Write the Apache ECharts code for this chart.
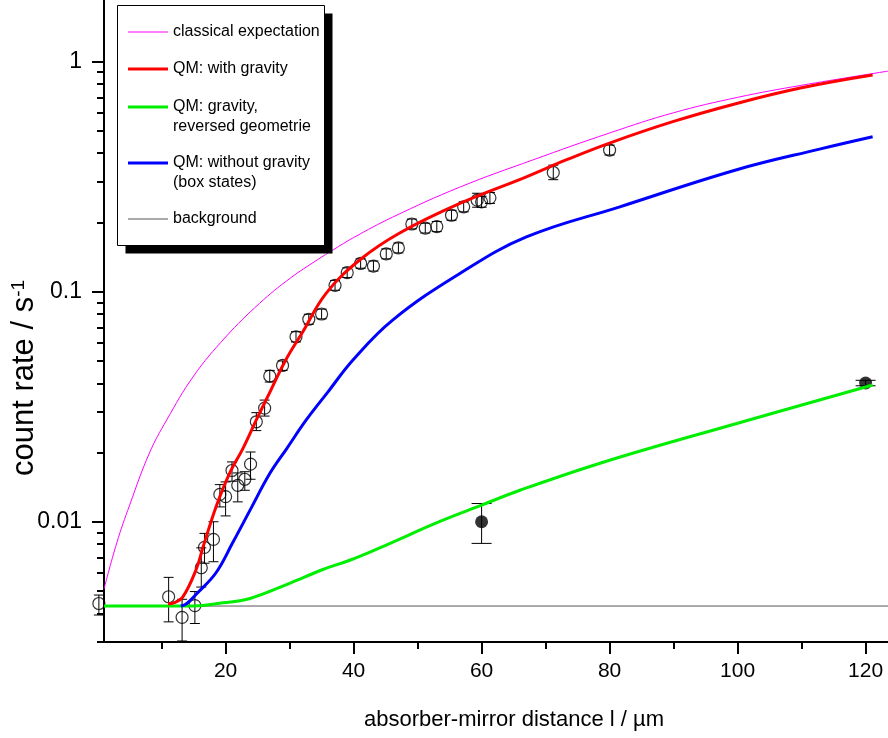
<!DOCTYPE html>
<html>
<head>
<meta charset="utf-8">
<title>count rate vs absorber-mirror distance</title>
<script src="https://cdn.jsdelivr.net/npm/echarts@6.0.0/dist/echarts.min.js"></script>
<style>
	html, body { margin: 0; padding: 0; background: #fff; }
	#chart { width: 888px; height: 738px; }
</style>
</head>
<body>
<div id="chart"></div>
<script>
// axis ranges and ticks
var xMin = 1, xMax = 123.5;
var yMin = 0.003, yMax = 1.855;
var xMajor = [20, 40, 60, 80, 100, 120];
var xMinor = [10, 30, 50, 70, 90, 110];
var yMajor = [0.01, 0.1, 1];
var yMajorLabels = ['0.01', '0.1', '1'];
var yMinor = [0.003, 0.004, 0.005, 0.006, 0.007, 0.008, 0.009,
	0.02, 0.03, 0.04, 0.05, 0.06, 0.07, 0.08, 0.09,
	0.2, 0.3, 0.4, 0.5, 0.6, 0.7, 0.8, 0.9];

// curves
var classicalX = [1, 3, 5, 8.1, 10.8, 15, 20, 25.3, 30, 34.4, 36.8, 40, 46.1, 56.6, 68, 80, 90, 100, 110, 123.5];
var classicalY = [0.0051, 0.0081, 0.0118, 0.0199, 0.0277, 0.043, 0.0635, 0.089, 0.114, 0.138, 0.152, 0.172, 0.211, 0.285, 0.374, 0.49, 0.60, 0.70, 0.79, 0.91];

var gravityX = [11, 12, 13.3, 15.4, 16.5, 18.5, 20.6, 22.7, 24.8, 27, 29.4, 32, 35.7, 40.9, 47.2, 56.6, 67, 73.2, 80, 90, 100, 110, 121.1];
var gravityY = [0.0044, 0.00445, 0.0047, 0.0062, 0.0078, 0.0116, 0.0162, 0.0208, 0.0277, 0.037, 0.0505, 0.0665, 0.0984, 0.137, 0.18, 0.242, 0.316, 0.374, 0.443, 0.55, 0.66, 0.77, 0.875];

var reversedX = [1, 15, 19.6, 23.8, 30, 35.2, 39.4, 45, 53.4, 60, 66, 80, 100, 121.1];
var reversedY = [0.0043, 0.0043, 0.00444, 0.00464, 0.0054, 0.0062, 0.0068, 0.0079, 0.010, 0.0118, 0.0137, 0.0185, 0.0268, 0.0393];

var boxX = [13, 13.9, 15.6, 18.5, 21.1, 23.8, 26.9, 29.5, 32.6, 36, 39.9, 46.1, 56.6, 67, 81.6, 100, 112.8, 121.1];
var boxY = [0.0043, 0.0044, 0.0049, 0.006, 0.0081, 0.0112, 0.0162, 0.0207, 0.0277, 0.0367, 0.0505, 0.0753, 0.12, 0.173, 0.234, 0.34, 0.417, 0.472];

var backgroundX = [1, 123.5];
var backgroundY = [0.0043, 0.0043];

// measured points, open circles
var measX = [0.2, 11.1, 13.2, 15.2, 16.2, 16.7, 18.1, 19.1, 20.0, 21.0, 21.9, 23.0, 23.9, 24.8, 26.1, 26.9, 28.9,
	31.0, 33.0, 35.0, 37.1, 39.0, 41.1, 43.1, 45.1, 47.0, 49.1, 51.2, 53.0, 55.3, 57.2, 59.3, 60.0, 61.3, 71.2, 80.0];
var measY = [0.00441, 0.00472, 0.00384, 0.00432, 0.00631, 0.00774, 0.00838, 0.01315, 0.01285, 0.0167, 0.0144, 0.0153, 0.0178, 0.0272, 0.0312, 0.043, 0.0478,
	0.0637, 0.0759, 0.080, 0.1066, 0.121, 0.1327, 0.1293, 0.146, 0.155, 0.197, 0.189, 0.192, 0.215, 0.234, 0.250, 0.246, 0.256, 0.330, 0.413];
var measLo = [0.00393, 0.00367, 0.00303, 0.00361, 0.0052, 0.0066, 0.0067, 0.0116, 0.0106, 0.0150, 0.0122, 0.0137, 0.0153, 0.0249, 0.0288, 0.0405, 0.0455,
	0.0605, 0.0722, 0.0762, 0.1015, 0.1152, 0.1265, 0.1230, 0.1390, 0.1475, 0.1875, 0.1800, 0.1825, 0.2045, 0.2225, 0.2330, 0.2330, 0.2420, 0.3070, 0.3930];
var measHi = [0.0048, 0.00573, 0.0046, 0.00497, 0.0077, 0.0089, 0.0100, 0.0145, 0.0149, 0.0182, 0.0163, 0.0165, 0.0201, 0.0298, 0.0338, 0.0455, 0.0500,
	0.0670, 0.0798, 0.0840, 0.1120, 0.1270, 0.1390, 0.1360, 0.1535, 0.1630, 0.2070, 0.1985, 0.2020, 0.2260, 0.2460, 0.2680, 0.2600, 0.2700, 0.3550, 0.4340];

// measured points, reversed geometry (filled)
var revX = [60, 120];
var revY = [0.010, 0.0401];
var revLo = [0.00805, 0.0390];
var revHi = [0.0120, 0.0412];

var legendNames = ['classical expectation', 'QM: with gravity', 'QM: gravity,\nreversed geometrie', 'QM: without gravity\n(box states)', 'background'];
var legendColors = ['#ff00ff', '#ff0000', '#00ee00', '#0000ff', '#555555'];
var legendWidths = [1, 3, 3, 3, 1];

var FONT = '"Liberation Sans", Arial, Helvetica, sans-serif';

function lg(v) {
	return Math.log(v) / Math.LN10;
}

function pairs(xs, ys) {
	return xs.map(function (x, i) {
		return [x, lg(ys[i])];
	});
}

function bars(xs, lo, hi) {
	return xs.map(function (x, i) {
		return [x, lg(lo[i]), lg(hi[i])];
	});
}

function errorBar(cap) {
	return function (params, api) {
		var x = api.value(0);
		var a = api.coord([x, api.value(1)]);
		var b = api.coord([x, api.value(2)]);
		var st = {stroke: '#000', lineWidth: 1};
		return {
			type: 'group',
			children: [
				{type: 'line', shape: {x1: a[0], y1: a[1], x2: b[0], y2: b[1]}, style: st},
				{type: 'line', shape: {x1: a[0] - cap, y1: a[1], x2: a[0] + cap, y2: a[1]}, style: st},
				{type: 'line', shape: {x1: b[0] - cap, y1: b[1], x2: b[0] + cap, y2: b[1]}, style: st}
			]
		};
	};
}

function curve(name, xs, ys, idx, z) {
	return {
		name: name,
		type: 'line',
		data: pairs(xs, ys),
		symbol: 'none',
		smooth: 0.4,
		clip: false,
		silent: true,
		z: z,
		lineStyle: {color: legendColors[idx], width: legendWidths[idx]}
	};
}

// legend box drawn by hand: shadow, frame, samples, names
var legendX = 117.5, legendY = 5.5, legendW = 207, legendH = 240;
var rowY = [32, 69, 107, 163, 219];
var legendGraphic = [
	{type: 'rect', z: 100, shape: {x: legendX + 8, y: legendY + 8, width: legendW, height: legendH}, style: {fill: '#000'}},
	{type: 'rect', z: 101, shape: {x: legendX, y: legendY, width: legendW, height: legendH}, style: {fill: '#fff', stroke: '#000', lineWidth: 1}}
];
legendNames.forEach(function (n, i) {
	legendGraphic.push({
		type: 'line', z: 102,
		shape: {x1: 128, y1: rowY[i], x2: 168, y2: rowY[i]},
		style: {stroke: legendColors[i], lineWidth: legendWidths[i]}
	});
	legendGraphic.push({
		type: 'text', z: 102,
		style: {
			x: 173, y: rowY[i] - 10, text: n, fill: '#000',
			font: '16px ' + FONT, lineHeight: 20, verticalAlign: 'top'
		}
	});
});

var chart = echarts.init(document.getElementById('chart'));

chart.setOption({
	animation: false,
	backgroundColor: '#fff',
	textStyle: {fontFamily: FONT, color: '#000'},
	grid: {left: 104, right: 0, top: 0, bottom: 96, outerBoundsMode: 'none'},
	xAxis: [{
		type: 'value',
		min: xMin,
		max: xMax,
		name: 'absorber-mirror distance l / µm',
		nameLocation: 'middle',
		nameGap: 67,
		nameMoveOverlap: false,
		nameTextStyle: {fontSize: 22, color: '#000', fontFamily: FONT, padding: [0, 0, 0, 36]},
		axisLine: {onZero: false, lineStyle: {color: '#000', width: 2}},
		axisTick: {length: 12, customValues: xMajor, lineStyle: {color: '#000', width: 2}},
		axisLabel: {customValues: xMajor, margin: 19, fontSize: 21, color: '#000', fontFamily: FONT},
		splitLine: {show: false}
	}, {
		type: 'value',
		min: xMin,
		max: xMax,
		position: 'bottom',
		axisLine: {show: false, onZero: false},
		axisTick: {length: 7, customValues: xMinor, lineStyle: {color: '#000', width: 2}},
		axisLabel: {show: false},
		splitLine: {show: false}
	}],
	yAxis: [{
		type: 'value',
		min: lg(yMin),
		max: lg(yMax),
		position: 'left',
		name: 'count rate / s{sup|-1}',
		nameLocation: 'middle',
		nameGap: 64,
		nameRotate: 90,
		nameMoveOverlap: false,
		nameTextStyle: {
			fontSize: 31, color: '#000', fontFamily: FONT, padding: [0, 114, 0, 0],
			rich: {sup: {fontSize: 19, color: '#000', fontFamily: FONT, verticalAlign: 'top'}}
		},
		axisLine: {onZero: false, lineStyle: {color: '#000', width: 2}},
		axisTick: {length: 12, customValues: yMajor.map(lg), lineStyle: {color: '#000', width: 2}},
		axisLabel: {
			customValues: yMajor.map(lg),
			margin: 22, fontSize: 23, color: '#000', fontFamily: FONT,
			formatter: function (v) {
				for (var i = 0; i < yMajor.length; i++) {
					if (Math.abs(lg(yMajor[i]) - v) < 1e-6) return yMajorLabels[i];
				}
				return '';
			}
		},
		splitLine: {show: false}
	}, {
		type: 'value',
		min: lg(yMin),
		max: lg(yMax),
		position: 'left',
		axisLine: {show: false, onZero: false},
		axisTick: {length: 7, customValues: yMinor.map(lg), lineStyle: {color: '#000', width: 2}},
		axisLabel: {show: false},
		splitLine: {show: false}
	}],
	graphic: legendGraphic,
	series: [
		{
			name: legendNames[4],
			type: 'line',
			data: pairs(backgroundX, backgroundY),
			symbol: 'none',
			silent: true,
			z: 1,
			lineStyle: {color: legendColors[4], width: 1}
		},
		{
			name: 'error bars',
			type: 'custom',
			renderItem: errorBar(5),
			data: bars(measX, measLo, measHi),
			encode: {x: 0, y: [1, 2]},
			clip: false,
			silent: true,
			z: 2
		},
		{
			name: 'error bars (reversed)',
			type: 'custom',
			renderItem: errorBar(10),
			data: bars(revX, revLo, revHi),
			encode: {x: 0, y: [1, 2]},
			clip: false,
			silent: true,
			z: 2
		},
		{
			name: 'measurement',
			type: 'scatter',
			data: pairs(measX, measY),
			symbol: 'circle',
			symbolSize: 12,
			clip: false,
			silent: true,
			z: 3,
			itemStyle: {color: 'rgba(0,0,0,0)', borderColor: '#000', borderWidth: 1.2}
		},
		{
			name: 'measurement (reversed)',
			type: 'scatter',
			data: pairs(revX, revY),
			symbol: 'circle',
			symbolSize: 13,
			clip: false,
			silent: true,
			z: 3,
			itemStyle: {color: '#000'}
		},
		curve(legendNames[0], classicalX, classicalY, 0, 4),
		curve(legendNames[2], reversedX, reversedY, 2, 4),
		curve(legendNames[3], boxX, boxY, 3, 4),
		curve(legendNames[1], gravityX, gravityY, 1, 5)
	]
});
</script>
</body>
</html>
